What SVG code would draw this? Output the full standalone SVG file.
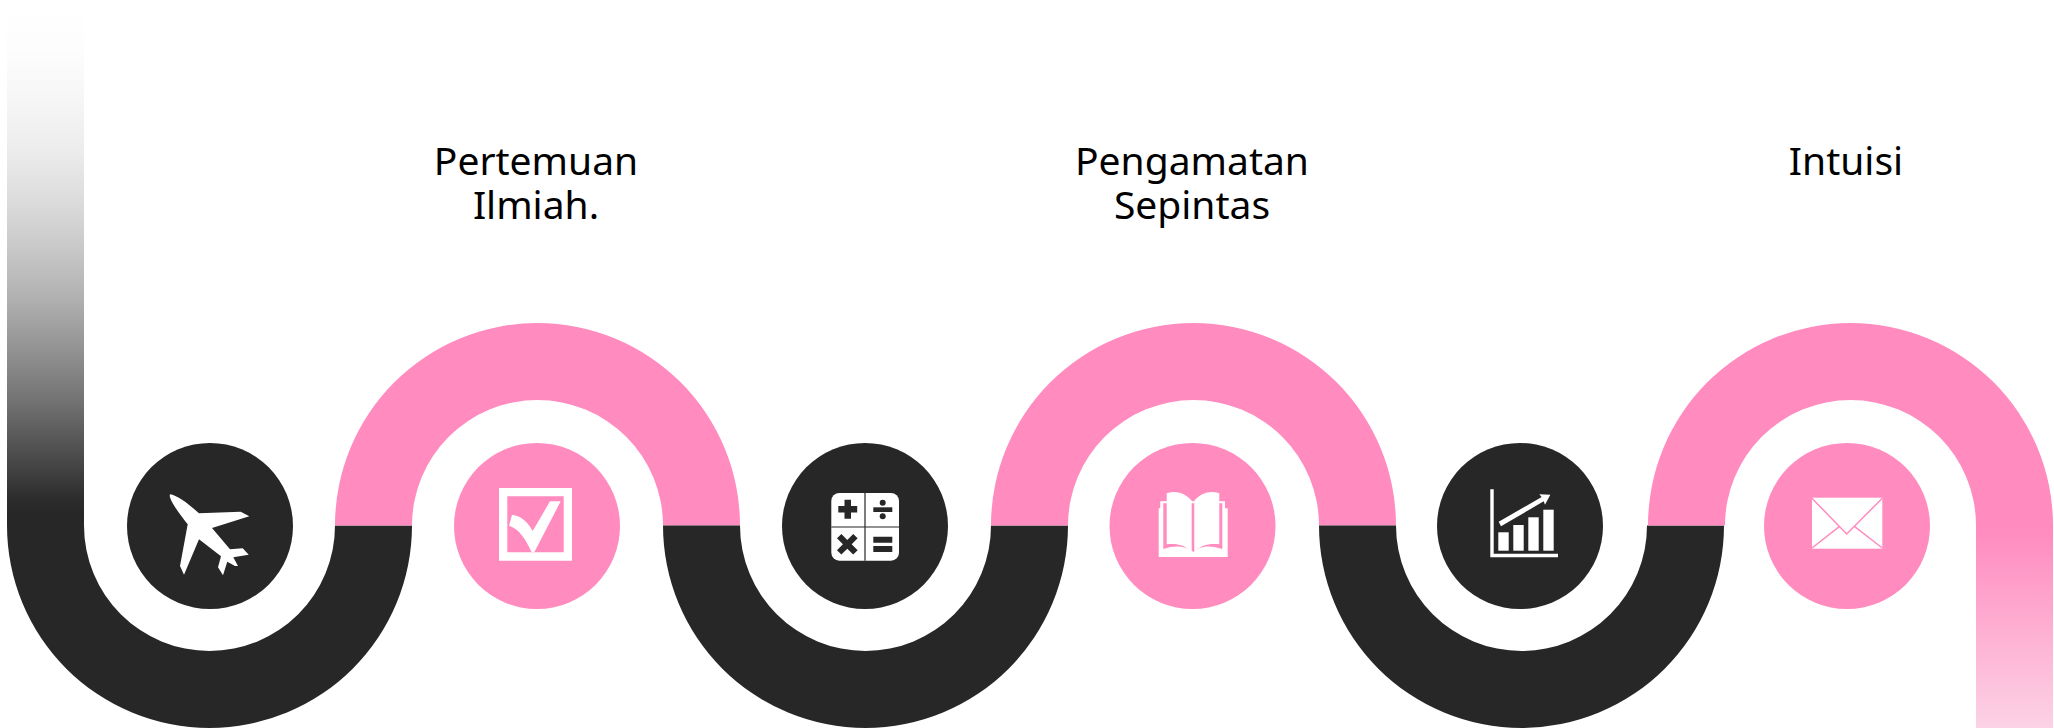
<svg xmlns="http://www.w3.org/2000/svg" width="2054" height="728" viewBox="0 0 2054 728">
<defs>
<linearGradient id="fadeDark" gradientUnits="userSpaceOnUse" x1="0" y1="0" x2="0" y2="525">
<stop offset="0" stop-color="#fff"/><stop offset="0.095" stop-color="#fdfdfd"/><stop offset="0.19" stop-color="#f6f6f6"/><stop offset="0.286" stop-color="#ececec"/><stop offset="0.381" stop-color="#dcdcdc"/><stop offset="0.476" stop-color="#c8c8c8"/><stop offset="0.571" stop-color="#b0b0b0"/><stop offset="0.667" stop-color="#929292"/><stop offset="0.762" stop-color="#737373"/><stop offset="0.857" stop-color="#505050"/><stop offset="0.952" stop-color="#2c2c2c"/><stop offset="0.98" stop-color="#272727"/>
</linearGradient>
<linearGradient id="fadePink" gradientUnits="userSpaceOnUse" x1="0" y1="530" x2="0" y2="728">
<stop offset="0" stop-color="#ff8bbf"/><stop offset="1" stop-color="#fcd2e5"/>
</linearGradient>
<style>
.dark{fill:#272727}
.pink{fill:#ff8bbf}
.ico{fill:#fff}
text{font-family:"Noto Sans","DejaVu Sans",sans-serif;font-size:39px;fill:#000;text-anchor:middle}
</style>
</defs>
<rect width="2054" height="728" fill="#fff"/>
<g id="connectors">
<rect x="7" y="10" width="77" height="516" fill="url(#fadeDark)"/>
<rect x="1976" y="525" width="77" height="203" fill="url(#fadePink)"/>
<path class="dark" d="M7 525.5A202.5 202.5 0 0 0 412 525.5H335A125.500 125.500 0 0 1 84 525.500Z"/>
<path class="pink" d="M335 525.500A202.500 202.500 0 0 1 740 525.500H663A125.500 125.500 0 0 0 412 525.500Z"/>
<path class="dark" d="M663 525.500A202.500 202.500 0 0 0 1068 525.500H991A125.500 125.500 0 0 1 740 525.500Z"/>
<path class="pink" d="M991 525.500A202.500 202.500 0 0 1 1396 525.500H1319A125.500 125.500 0 0 0 1068 525.500Z"/>
<path class="dark" d="M1319 525.500A202.500 202.500 0 0 0 1724 525.500H1647A125.500 125.500 0 0 1 1396 525.500Z"/>
<path class="pink" d="M1648 525.500A202.500 202.500 0 0 1 2053 525.500H1976A125.500 125.500 0 0 0 1725 525.500Z"/>
</g>
<g id="node-plane">
<circle class="dark" cx="210" cy="526" r="83"/>
<path class="ico" d="M170 494.300C177 495 190 505 199 513.300L240.700 511.700L249.300 516.300L212 528L230 549.300L242.700 548.300L248.700 554.700L233.300 557.300L238 566L235 566L227.300 561.700L223 575.300L218 567.300L221 556.300L199 539.300L184 574.700L180 566L187.700 524.300C178 512 168 498 170 494.300Z"/>
</g>
<g id="node-check">
<circle class="pink" cx="537" cy="526" r="83"/>
<path class="ico" fill-rule="evenodd" d="M499 488H572V560.700H499ZM507.300 496.300V552.300H563.700V496.300Z"/>
<path class="ico" d="M550 501.300H560.700L534.300 552.300H531.700C525 538 519 529 509 525.700L512 514.700C521 516 528 522 532.700 531Z"/>
<text x="536" y="174.500">Pertemuan</text>
<text x="536" y="218.500">Ilmiah.</text>
</g>
<g id="node-calc">
<circle class="dark" cx="865" cy="526" r="83"/>
<rect class="ico" x="831.300" y="493" width="67.700" height="67.700" rx="8"/>
<path d="M865 493V560.700M831.300 527H899" stroke="#272727" stroke-width="1.200" fill="none"/>
<path class="dark" d="M844.500 499.800H851V506H857.200V512.600H851V518.800H844.500V512.600H838.300V506H844.500Z"/>
<path class="dark" d="M873.300 507.300H892.300V512H873.300Z"/>
<circle class="dark" cx="882.700" cy="502.700" r="3"/>
<circle class="dark" cx="882.700" cy="516.300" r="3"/>
<path class="dark" transform="rotate(45 847.300 544.300)" d="M844.200 532.800H850.400V541.200H858.800V547.400H850.400V555.800H844.200V547.400H835.800V541.200H844.200Z"/>
<path class="dark" d="M873.300 536.700H892.300V542.700H873.300ZM873.300 546H892.300V552H873.300Z"/>
</g>
<g id="node-book">
<circle class="pink" cx="1192.500" cy="526" r="83"/>
<path class="ico" d="M1158.700 508.300H1160.300V501.300H1225V508.300H1227.700V557H1158.700Z"/>
<path class="pink" d="M1163.300 503.300H1222.300V549C1208 544 1198 547 1193.500 552C1188 547 1177 544 1163.300 549Z"/>
<path class="ico" d="M1166.700 493.300C1176 490.500 1184 492.500 1191.700 500.700V551.700C1185 545 1176 543 1166.700 544.300Z"/>
<path class="ico" d="M1194.300 500.700C1202 492.500 1210 490.500 1219.300 493.300V544.300C1210 543 1201 545 1194.300 551.700Z"/>
</g>
<g id="node-chart">
<circle class="dark" cx="1520" cy="526" r="83"/>
<path class="ico" d="M1490.300 489.300H1493.700V553.700H1558V557.300H1490.300Z"/>
<rect class="ico" x="1498.300" y="532.300" width="10.400" height="18.400"/>
<rect class="ico" x="1513.300" y="525" width="10.400" height="25.700"/>
<rect class="ico" x="1528.300" y="517.300" width="10.400" height="33.400"/>
<rect class="ico" x="1543.300" y="509.700" width="10.400" height="41"/>
<path class="ico" d="M1498.700 521.700L1541.700 497L1539.300 494.300L1550.300 494.700L1545 504.700L1543.700 501.300L1501 526.300Z"/>
</g>
<g id="node-mail">
<circle class="pink" cx="1847" cy="526" r="83"/>
<rect class="ico" x="1812" y="497.700" width="70.300" height="51"/>
<path d="M1812 498.300L1846.700 534L1882.300 498.300M1812 548L1839.300 526.700M1882.300 548L1854.700 526.700" stroke="#ff8bbf" stroke-width="1.500" fill="none"/>
</g>
<g id="labels">
<text x="1192" y="174.500">Pengamatan</text>
<text x="1192" y="218.500">Sepintas</text>
<text x="1846" y="174.500">Intuisi</text>
</g>
</svg>
